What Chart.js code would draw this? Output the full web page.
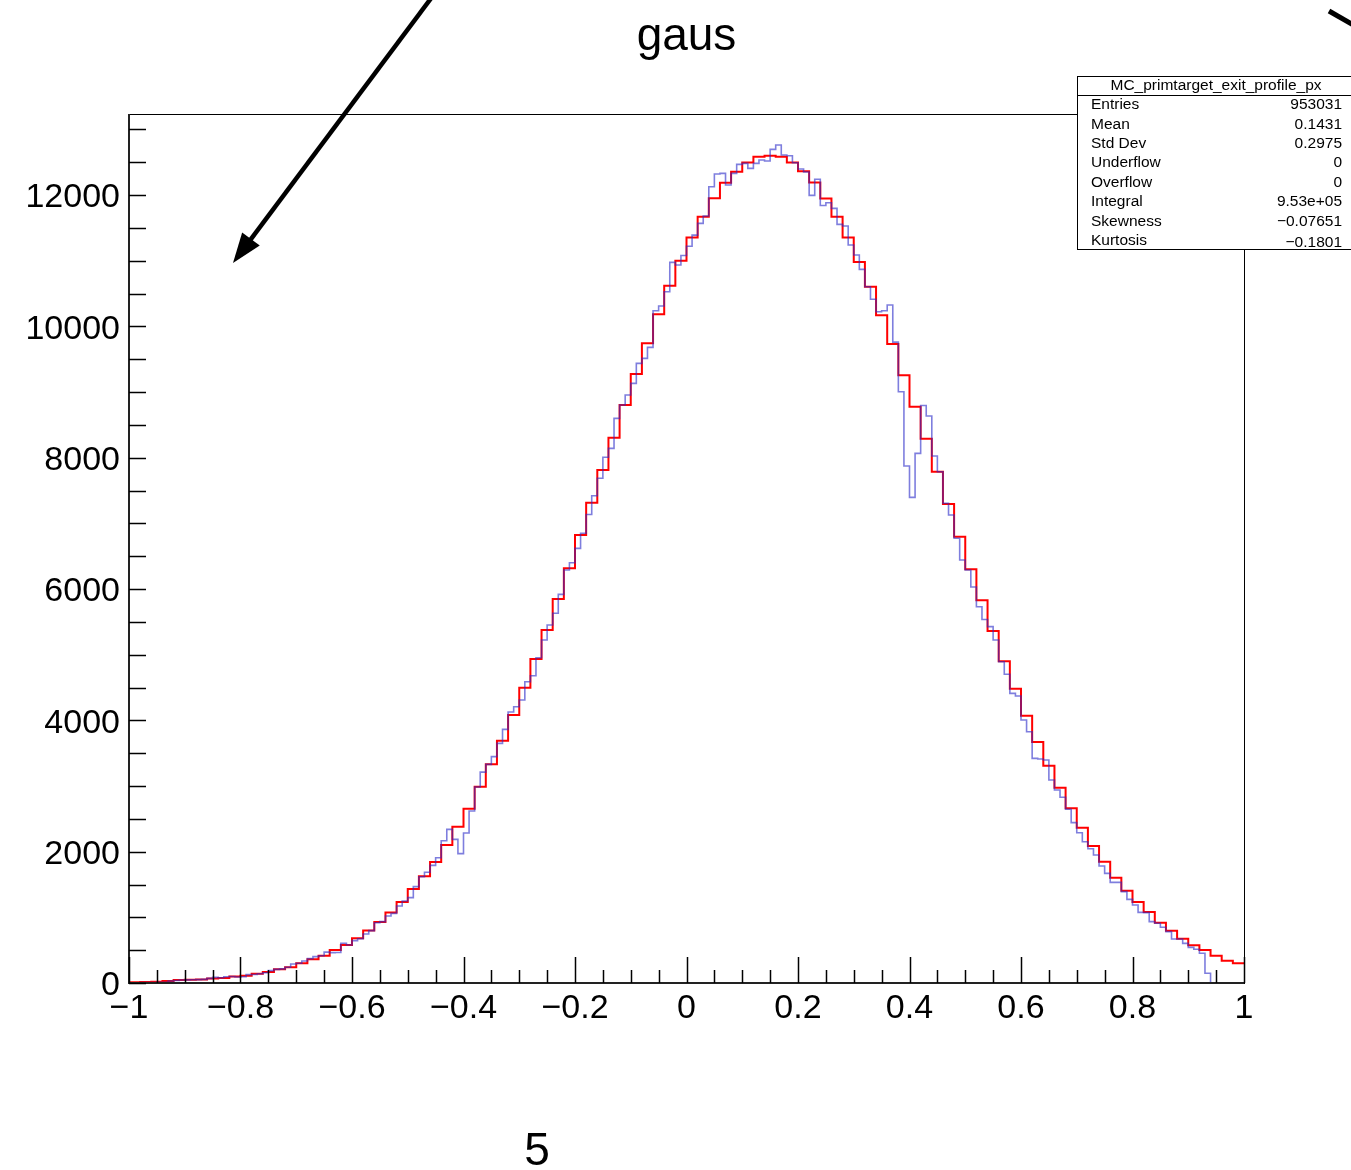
<!DOCTYPE html>
<html>
<head>
<meta charset="utf-8">
<script src="https://cdn.jsdelivr.net/npm/chart.js@4.4.0/dist/chart.umd.min.js"></script>
<style>
html,body{margin:0;padding:0;background:#fff;}
canvas{display:block;}
</style>
</head>
<body>
<canvas id="c" width="1351" height="1170"></canvas>
<script>
// ---------------- data ----------------
const histTitle = 'gaus';
const pageNote = '5';
const xRange = [-1, 1];
const yMax = 13234;

// red histogram: 100 bins of width 0.02 from -1 to 1
const redCounts = [
  10, 15, 20, 30, 45, 50, 55, 70, 75, 100,
  110, 140, 167, 208, 239, 300, 360, 416, 502, 578,
  680, 800, 929, 1074, 1233, 1431, 1625, 1843, 2101, 2380,
  2655, 2990, 3330, 3690, 4081, 4497, 4934, 5376, 5848, 6318,
  6822, 7314, 7812, 8304, 8802, 9274, 9741, 10183, 10619, 10998,
  11352, 11670, 11950, 12187, 12355, 12497, 12583, 12598, 12583, 12497,
  12363, 12190, 11947, 11670, 11355, 10980, 10604, 10168, 9731, 9256,
  8776, 8289, 7786, 7294, 6797, 6302, 5830, 5360, 4899, 4482,
  4071, 3670, 3309, 2974, 2660, 2365, 2086, 1847, 1604, 1406,
  1233, 1081, 918, 797, 675, 574, 502, 416, 340, 300
];

// blue histogram: 200 bins of width 0.01 from -1 to 1
const blueCounts = [
  3, 4, 5, 6, 8, 10, 12, 30, 38, 45,
  48, 50, 52, 55, 70, 86, 80, 96, 100, 92,
  95, 127, 130, 140, 157, 188, 208, 215, 239, 289,
  300, 335, 371, 401, 415, 470, 462, 465, 605, 578,
  645, 675, 746, 797, 918, 934, 1020, 1061, 1173, 1249,
  1300, 1467, 1619, 1686, 1792, 1908, 2167, 2340, 2188, 1970,
  2285, 2620, 2985, 3211, 3330, 3447, 3650, 3863, 4127, 4208,
  4310, 4588, 4680, 4954, 5223, 5452, 5630, 5919, 6289, 6400,
  6619, 6850, 7135, 7420, 7686, 8006, 8142, 8599, 8802, 8954,
  9132, 9437, 9513, 9680, 10238, 10310, 10528, 10975, 10934, 11080,
  11220, 11390, 11569, 11680, 12126, 12320, 12330, 12152, 12330, 12467,
  12482, 12406, 12482, 12533, 12518, 12695, 12761, 12609, 12598, 12492,
  12396, 12350, 11995, 12240, 11840, 11883, 11797, 11553, 11528, 11238,
  11086, 10868, 10604, 10412, 10223, 10238, 10325, 9760, 9005, 7873,
  7396, 8066, 8795, 8635, 8025, 7786, 7305, 7127, 6772, 6442,
  6289, 6030, 5731, 5535, 5427, 5223, 4893, 4701, 4411, 4371,
  4005, 3827, 3421, 3411, 3396, 3091, 2939, 2828, 2645, 2442,
  2289, 2150, 2045, 1949, 1782, 1670, 1533, 1533, 1391, 1274,
  1188, 1076, 1071, 934, 909, 848, 782, 670, 670, 604,
  543, 513, 452, 148, 0, 0, 0, 0, 0, 0
];

const xMajorTicks = [-1, -0.8, -0.6, -0.4, -0.2, 0, 0.2, 0.4, 0.6, 0.8, 1];
const xMinorTicks = [-0.95, -0.9, -0.85, -0.75, -0.7, -0.65, -0.55, -0.5, -0.45, -0.35, -0.3, -0.25,
  -0.15, -0.1, -0.05, 0.05, 0.1, 0.15, 0.25, 0.3, 0.35, 0.45, 0.5, 0.55, 0.65, 0.7, 0.75, 0.85, 0.9, 0.95];
const yMajorTicks = [0, 2000, 4000, 6000, 8000, 10000, 12000];
const yMinorTicks = [500, 1000, 1500, 2500, 3000, 3500, 4500, 5000, 5500, 6500, 7000, 7500,
  8500, 9000, 9500, 10500, 11000, 11500, 12500, 13000];

const statsName = 'MC_primtarget_exit_profile_px';
const statsLabels = ['Entries', 'Mean', 'Std Dev', 'Underflow', 'Overflow', 'Integral', 'Skewness', 'Kurtosis'];
const statsValues = ['953031', '0.1431', '0.2975', '0', '0', '9.53e+05', '\u22120.07651', '\u22120.1801'];

// ---------------- helpers ----------------
function stepPoints(counts) {
  const n = counts.length;
  const w = (xRange[1] - xRange[0]) / n;
  const pts = counts.map((c, i) => ({ x: xRange[0] + i * w, y: c }));
  pts.push({ x: xRange[1], y: counts[n - 1] });
  return pts;
}
function fmt(v) {
  const s = String(Math.round(v * 10) / 10);
  return s.replace('-', '\u2212');
}
const FONT = '"Liberation Sans", Arial, Helvetica, sans-serif';

const decor = {
  id: 'decor',
  afterDraw(chart) {
    const { ctx, chartArea: a, scales: { x, y } } = chart;
    ctx.save();
    // frame
    ctx.strokeStyle = '#000';
    ctx.lineWidth = 1;
    ctx.strokeRect(a.left + 0.5, a.top + 0.5, a.right - a.left, a.bottom - a.top);
    ctx.lineWidth = 2;
    ctx.strokeStyle = '#222';
    ctx.beginPath();
    ctx.moveTo(a.left, a.top);
    ctx.lineTo(a.left, a.bottom);
    ctx.lineTo(a.right, a.bottom);
    ctx.stroke();
    // ticks
    ctx.lineWidth = 1.5;
    ctx.strokeStyle = '#000';
    ctx.beginPath();
    yMajorTicks.concat(yMinorTicks).forEach(v => {
      const py = Math.round(y.getPixelForValue(v)) + 0.5;
      ctx.moveTo(a.left, py); ctx.lineTo(a.left + 17, py);
    });
    xMajorTicks.forEach(v => {
      const px = Math.round(x.getPixelForValue(v)) + 0.5;
      ctx.moveTo(px, a.bottom); ctx.lineTo(px, a.bottom - 26);
    });
    xMinorTicks.forEach(v => {
      const px = Math.round(x.getPixelForValue(v)) + 0.5;
      ctx.moveTo(px, a.bottom); ctx.lineTo(px, a.bottom - 13);
    });
    ctx.stroke();

    // title
    ctx.fillStyle = '#000';
    ctx.font = '46px ' + FONT;
    ctx.textAlign = 'center';
    ctx.textBaseline = 'alphabetic';
    ctx.fillText(histTitle, (a.left + a.right) / 2, 50);
    // page note
    ctx.fillText(pageNote, 537, 1165);

    // stats box
    const bx = 1077.5, by = 76.5, bw = 280, bh = 173;
    ctx.fillStyle = '#fff';
    ctx.fillRect(bx, by, bw, bh);
    ctx.lineWidth = 1;
    ctx.strokeStyle = '#000';
    ctx.strokeRect(bx, by, bw, bh);
    ctx.beginPath();
    ctx.moveTo(bx, 95.5); ctx.lineTo(bx + bw, 95.5);
    ctx.stroke();
    ctx.fillStyle = '#000';
    ctx.font = '15.5px ' + FONT;
    ctx.textBaseline = 'middle';
    ctx.textAlign = 'center';
    ctx.fillText(statsName, 1216, 86);
    statsLabels.forEach((lab, i) => {
      const ty = 105 + i * 19.4;
      ctx.textAlign = 'left';
      ctx.fillText(lab, 1091, ty);
      ctx.textAlign = 'right';
      ctx.fillText(statsValues[i], 1342, ty + (i === 7 ? 2 : 0));
    });

    // arrow (annotation)
    ctx.strokeStyle = '#000';
    ctx.fillStyle = '#000';
    ctx.lineWidth = 4.5;
    const x0 = 432, y0 = -3, x1 = 233, y1 = 263;
    const dx = x1 - x0, dy = y1 - y0, L = Math.hypot(dx, dy);
    const ux = dx / L, uy = dy / L;
    const hl = 30, hw = 11;
    ctx.beginPath();
    ctx.moveTo(x0, y0);
    ctx.lineTo(x1 - ux * hl * 0.8, y1 - uy * hl * 0.8);
    ctx.stroke();
    ctx.beginPath();
    ctx.moveTo(x1, y1);
    ctx.lineTo(x1 - ux * hl - uy * hw, y1 - uy * hl + ux * hw);
    ctx.lineTo(x1 - ux * hl + uy * hw, y1 - uy * hl - ux * hw);
    ctx.closePath();
    ctx.fill();
    // second arrow shaft at top right
    ctx.lineWidth = 5;
    ctx.beginPath();
    ctx.moveTo(1329, 11);
    ctx.lineTo(1362, 30);
    ctx.stroke();
    ctx.restore();
  }
};

new Chart(document.getElementById('c'), {
  type: 'line',
  data: {
    datasets: [
      {
        label: 'blue',
        data: stepPoints(blueCounts),
        stepped: 'before',
        borderColor: 'rgba(40,40,200,0.6)',
        borderWidth: 1.6,
        pointRadius: 0,
        fill: false,
        tension: 0
      },
      {
        label: 'red',
        data: stepPoints(redCounts),
        stepped: 'before',
        borderColor: '#ff0000',
        borderWidth: 2,
        pointRadius: 0,
        fill: false,
        tension: 0
      }
    ]
  },
  options: {
    responsive: false,
    animation: false,
    devicePixelRatio: 1,
    parsing: false,
    layout: { padding: { left: 0, top: 114, right: 107, bottom: 127 } },
    plugins: { legend: { display: false }, tooltip: { enabled: false }, title: { display: false } },
    scales: {
      x: {
        type: 'linear',
        min: xRange[0],
        max: xRange[1],
        afterBuildTicks: s => { s.ticks = xMajorTicks.map(v => ({ value: v })); },
        afterFit: s => { s.height = 60; },
        grid: { display: false },
        border: { display: false },
        ticks: {
          callback: v => fmt(v),
          font: { family: FONT, size: 34 },
          color: '#000',
          maxRotation: 0,
          autoSkip: false,
          padding: -3
        }
      },
      y: {
        type: 'linear',
        min: 0,
        max: yMax,
        afterBuildTicks: s => { s.ticks = yMajorTicks.map(v => ({ value: v })); },
        afterFit: s => { s.width = 129; },
        grid: { display: false },
        border: { display: false },
        ticks: {
          callback: v => fmt(v),
          font: { family: FONT, size: 34 },
          color: '#000',
          autoSkip: false,
          padding: 1,
          labelOffset: 3
        }
      }
    }
  },
  plugins: [decor]
});
</script>
</body>
</html>
